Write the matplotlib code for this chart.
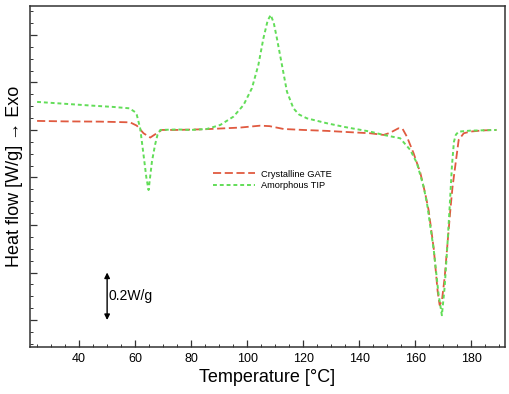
import numpy as np
import matplotlib
matplotlib.use('Agg')
import matplotlib.pyplot as plt
from matplotlib.ticker import MultipleLocator

plt.rcParams['font.family'] = ['Liberation Sans', 'DejaVu Sans']

# Crystalline GATE (red dashed)
t_gate = [25, 35, 47.5, 58.2, 60.6, 63, 65.4, 67.7, 69.5, 75, 85, 97.5, 104.6,
          108, 113, 120, 128.5, 136, 143.9, 148.7, 151, 154, 155.5, 157, 159.4,
          161.8, 163.6, 164.8, 166.6, 168, 168.7, 169.5, 170.5, 171.5, 172.5,
          173.3, 174.3, 175.5, 177.3, 179.6, 184, 189]
y_gate = [0.038, 0.036, 0.035, 0.032, 0.018, -0.014, -0.032, -0.014, 0.0, 0.0,
          0.003, 0.010, 0.018, 0.016, 0.004, 0.0, -0.004, -0.009, -0.014, -0.021,
          -0.012, 0.007, 0.004, -0.028, -0.098, -0.18, -0.27, -0.34, -0.50,
          -0.68, -0.737, -0.72, -0.62, -0.48, -0.34, -0.24, -0.15, -0.042,
          -0.014, -0.007, -0.002, 0.0]

# Amorphous TIP (green dotted)
t_tip = [25, 35, 45, 52, 58, 60, 60.6, 61.8, 63, 64, 64.8, 66, 67.1, 68, 69,
         75, 80, 85.6, 90.4, 95.1, 98.7, 101.7, 104, 105.8, 107.3, 108.4, 109.5,
         110.6, 112.4, 114.2, 116.5, 118.5, 121.3, 128.5, 135, 143.9, 148.7,
         154.6, 158.2, 160.6, 163, 164.2, 166.6, 168.3, 169.5, 170.5, 171.5,
         172.3, 173.1, 173.8, 174.5, 175.5, 179.6, 189]
y_tip = [0.118, 0.110, 0.102, 0.097, 0.091, 0.075, 0.063, 0.007, -0.105, -0.20,
         -0.253, -0.133, -0.063, -0.02, 0.0, 0.002, 0.0, 0.004, 0.021, 0.056,
         0.105, 0.176, 0.274, 0.386, 0.46, 0.484, 0.45, 0.386, 0.274, 0.161,
         0.091, 0.065, 0.049, 0.028, 0.012, -0.007, -0.021, -0.035, -0.084,
         -0.14, -0.24, -0.31, -0.505, -0.69, -0.78, -0.66, -0.48, -0.32, -0.15,
         -0.05, -0.02, -0.007, -0.003, 0.0]

fig = plt.figure(figsize=(5.1, 3.94), dpi=100)
ax = fig.add_axes([0.059, 0.119, 0.931, 0.866])

ax.plot(t_gate, y_gate, color='#e05a40', linestyle=(0, (4.5, 2)), linewidth=1.3,
        label='Crystalline GATE')
ax.plot(t_tip, y_tip, color='#62dd58', linestyle=(0, (2, 1.5)), linewidth=1.4,
        label='Amorphous TIP')

ax.set_xlim(22.5, 192)
ax.set_ylim(-0.914, 0.522)

ax.xaxis.set_major_locator(MultipleLocator(20))
ax.xaxis.set_minor_locator(MultipleLocator(5))
ax.yaxis.set_major_locator(MultipleLocator(0.2))
ax.yaxis.set_minor_locator(MultipleLocator(0.05))
ax.set_xticks([40, 60, 80, 100, 120, 140, 160, 180])
ax.tick_params(which='both', direction='in', top=False, right=False,
               labelleft=False, color='#333333')
ax.tick_params(which='major', length=5, width=0.9, labelsize=9, pad=4)
ax.tick_params(which='minor', length=2.5, width=0.7)
for s in ax.spines.values():
    s.set_color('#333333')
    s.set_linewidth(1.1)

ax.set_xlabel('Temperature [°C]', fontsize=13, labelpad=3)
ax.set_ylabel('Heat flow [W/g] → Exo', fontsize=13, labelpad=5)

# scale bar
ax.annotate('', xy=(50, -0.6), xytext=(50, -0.8),
            arrowprops=dict(arrowstyle='<|-|>', color='black', lw=1.0,
                            mutation_scale=8, shrinkA=0, shrinkB=0))
ax.text(50.6, -0.7, '0.2W/g', fontsize=10, va='center', ha='left')

ax.legend(loc='upper left', bbox_to_anchor=(0.368, 0.545), frameon=False,
          fontsize=6.7, handlelength=4.5, handletextpad=0.6, labelspacing=0.25)

fig.savefig('out.png', dpi=100)
